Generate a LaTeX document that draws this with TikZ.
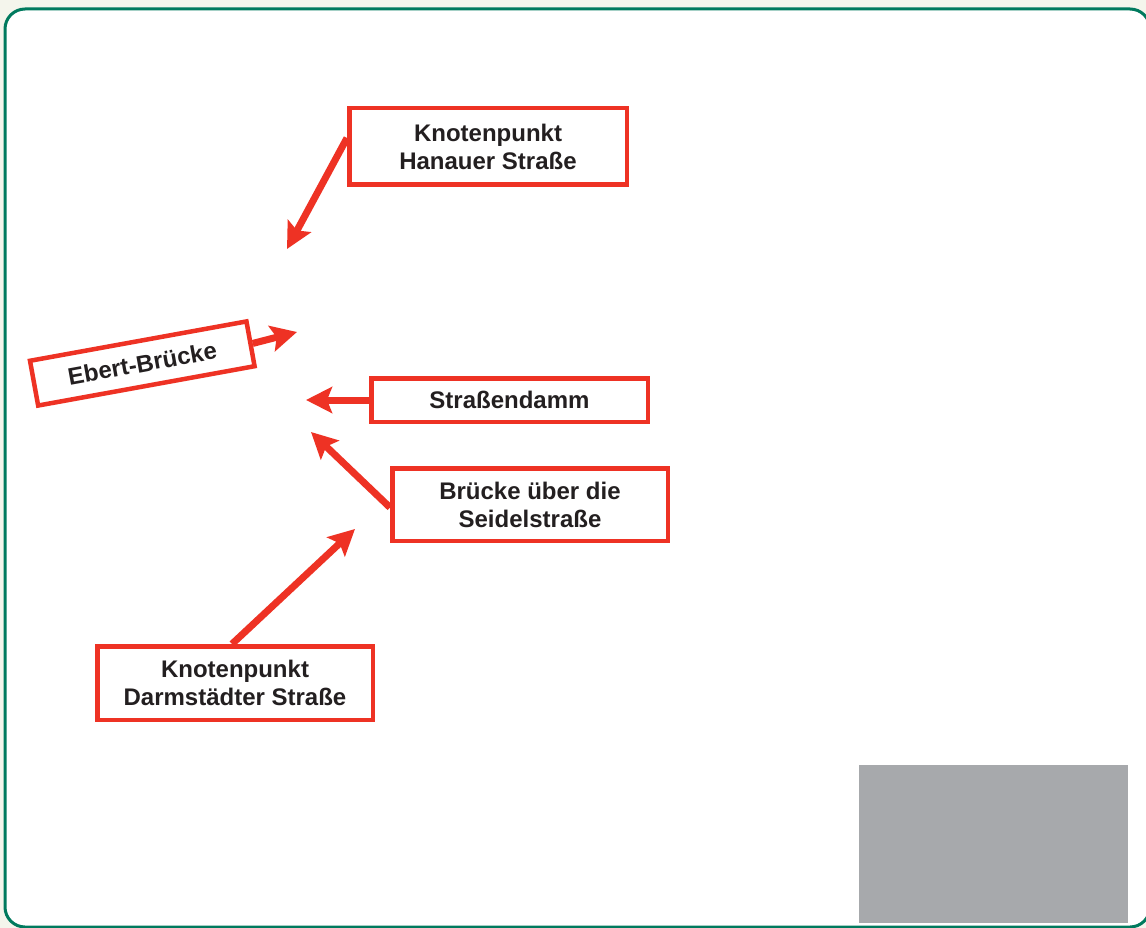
\documentclass[tikz,border=0pt]{standalone}
\usepackage{fontspec}
\setmainfont{Liberation Sans}
\usetikzlibrary{arrows.meta}
\definecolor{redline}{HTML}{EE3224}
\definecolor{txt}{HTML}{231F20}
\definecolor{frame}{HTML}{007A5E}
\definecolor{cream}{HTML}{F4F5EC}
\definecolor{greyblock}{HTML}{A7A9AC}
\tikzset{
  labelbox/.style={draw=redline, line width=4.5pt, fill=white, text=txt,
    font=\bfseries\fontsize{24}{28}\selectfont, align=center, inner sep=0pt,
    minimum width=#1, anchor=center},
  pointer/.style={draw=redline, line width=7pt,
    -{Stealth[length=26pt,width=26pt,inset=5pt]}}
}
\begin{document}
\begin{tikzpicture}[x=1pt,y=-1pt]
\useasboundingbox (0,0) rectangle (1146,928);
\fill[cream] (0,0) rectangle (1146,928);
\draw[frame, line width=3pt, fill=white, rounded corners=20pt] (5,9) rectangle (1150,927);
\fill[greyblock] (859,765) rectangle (1128,923);

\node[labelbox=277.5pt, minimum height=76.5pt] (hanauer) at (488,146.5) {Knotenpunkt\\Hanauer Straße};
\node[labelbox=220pt, minimum height=45.5pt, rotate=10.3] (ebert) at (142.3,363.5) {Ebert-Brücke};
\node[labelbox=276.5pt, minimum height=43.5pt] (damm) at (509.5,400) {Straßendamm};
\node[labelbox=275.5pt, minimum height=72.5pt] (seidel) at (530,504.5) {Brücke über die\\Seidelstraße};
\node[labelbox=275.5pt, minimum height=73.5pt] (darm) at (235,683) {Knotenpunkt\\Darmstädter Straße};

\coordinate (t1) at (287,249);
\coordinate (t2) at (297,332);
\coordinate (t3) at (306,400);
\coordinate (t4) at (311,432);
\coordinate (t5) at (355,529);

\draw[pointer] ([yshift=8.5pt]hanauer.west) -- (t1);
\draw[pointer] (ebert.east) -- (t2);
\draw[pointer] (damm.west) -- (t3);
\draw[pointer] ([yshift=-3pt]seidel.west) -- (t4);
\draw[pointer] ([xshift=-3pt]darm.north) -- (t5);
\end{tikzpicture}
\end{document}
